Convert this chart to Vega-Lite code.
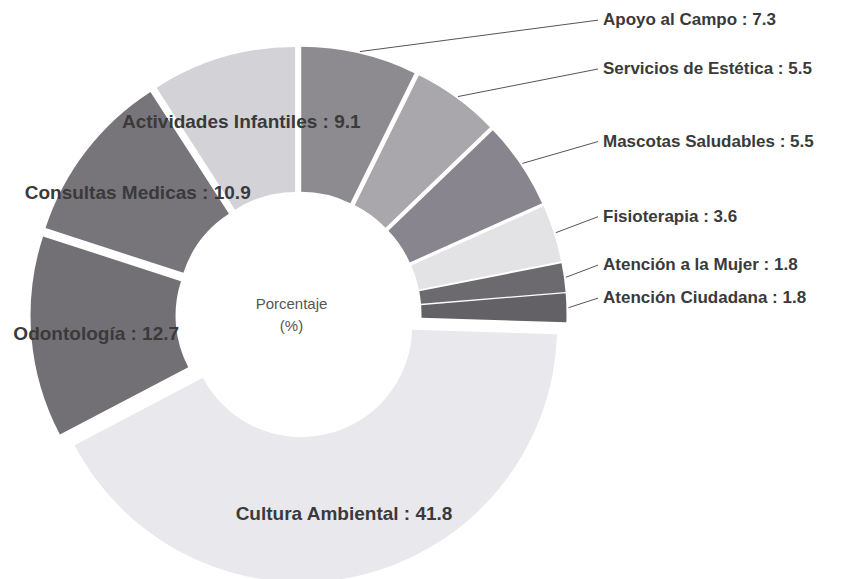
{
  "$schema": "https://vega.github.io/schema/vega-lite/v6.json",
  "width": 597,
  "height": 529,
  "autosize": {"type": "none"},
  "padding": {"left": 0, "top": 50, "right": 259, "bottom": 0},
  "background": "white",
  "config": {"view": {"stroke": null}, "text": {"font": "Liberation Sans"}},
  "data": {
    "values": [
      {"Actividad": "Apoyo al Campo", "Porcentaje": 7.3, "orden": 1},
      {"Actividad": "Servicios de Estética", "Porcentaje": 5.5, "orden": 2},
      {"Actividad": "Mascotas Saludables", "Porcentaje": 5.5, "orden": 3},
      {"Actividad": "Fisioterapia", "Porcentaje": 3.6, "orden": 4},
      {"Actividad": "Atención a la Mujer", "Porcentaje": 1.8, "orden": 5},
      {"Actividad": "Atención Ciudadana", "Porcentaje": 1.8, "orden": 6},
      {"Actividad": "Cultura Ambiental", "Porcentaje": 41.8, "orden": 7},
      {"Actividad": "Odontología", "Porcentaje": 12.7, "orden": 8},
      {"Actividad": "Consultas Medicas", "Porcentaje": 10.9, "orden": 9},
      {"Actividad": "Actividades Infantiles", "Porcentaje": 9.1, "orden": 10}
    ]
  },
  "transform": [
    {"joinaggregate": [{"op": "sum", "field": "Porcentaje", "as": "total"}]},
    {"window": [{"op": "sum", "field": "Porcentaje", "as": "acum"}], "sort": [{"field": "orden"}], "frame": [null, 0]},
    {"calculate": "(datum.acum - datum.Porcentaje) / datum.total", "as": "p0"},
    {"calculate": "datum.acum / datum.total", "as": "p1"},
    {"calculate": "PI * (datum.p0 + datum.p1)", "as": "ang"},
    {"calculate": "12 * sin(datum.ang)", "as": "ex"},
    {"calculate": "12 * cos(datum.ang)", "as": "ey"},
    {"calculate": "datum.Actividad + ' : ' + datum.Porcentaje", "as": "etiqueta"}
  ],
  "layer": [
    {
      "mark": {"type": "arc", "innerRadius": 111, "outerRadius": 256},
      "encoding": {
        "x": {"field": "ex", "type": "quantitative", "scale": {"domain": [-298.5, 298.5], "nice": false, "zero": false}, "axis": null},
        "y": {"field": "ey", "type": "quantitative", "scale": {"domain": [-264.5, 264.5], "nice": false, "zero": false}, "axis": null},
        "theta": {"field": "p0", "type": "quantitative", "scale": {"domain": [0, 1]}, "stack": null},
        "theta2": {"field": "p1"},
        "color": {
          "field": "Actividad",
          "type": "nominal",
          "legend": null,
          "scale": {
            "domain": ["Apoyo al Campo", "Servicios de Estética", "Mascotas Saludables", "Fisioterapia", "Atención a la Mujer", "Atención Ciudadana", "Cultura Ambiental", "Odontología", "Consultas Medicas", "Actividades Infantiles"],
            "range": ["#8d8b8f", "#a9a7ab", "#88858e", "#e3e3e6", "#6c6a6f", "#636166", "#e9e9ed", "#727075", "#77757a", "#d3d3d7"]
          }
        }
      }
    },
    {
      "transform": [
        {"filter": "datum.Porcentaje < 8"},
        {"calculate": "270 * sin(datum.ang)", "as": "lx1"},
        {"calculate": "270 * cos(datum.ang)", "as": "ly1"},
        {"calculate": "299.5", "as": "lx2"},
        {"calculate": "293 * cos(datum.ang) + 9", "as": "ly2"}
      ],
      "mark": {"type": "rule", "color": "#555555", "strokeWidth": 1},
      "encoding": {
        "x": {"field": "lx1", "type": "quantitative"},
        "y": {"field": "ly1", "type": "quantitative"},
        "x2": {"field": "lx2"},
        "y2": {"field": "ly2"}
      }
    },
    {
      "transform": [
        {"filter": "datum.Porcentaje < 8"},
        {"calculate": "304.5", "as": "tx"},
        {"calculate": "293 * cos(datum.ang) + 9", "as": "ty"}
      ],
      "mark": {"type": "text", "align": "left", "baseline": "middle", "fontSize": 17, "fontWeight": "bold", "color": "#3a3a3a"},
      "encoding": {
        "x": {"field": "tx", "type": "quantitative"},
        "y": {"field": "ty", "type": "quantitative"},
        "text": {"field": "etiqueta"}
      }
    },
    {
      "transform": [
        {"filter": "datum.Porcentaje >= 8"},
        {"calculate": "203 * sin(datum.ang)", "as": "tx"},
        {"calculate": "203 * cos(datum.ang)", "as": "ty"}
      ],
      "mark": {"type": "text", "align": "center", "baseline": "middle", "fontSize": 19, "fontWeight": "bold", "color": "#3a3a3a", "dy": 2},
      "encoding": {
        "x": {"field": "tx", "type": "quantitative"},
        "y": {"field": "ty", "type": "quantitative"},
        "text": {"field": "etiqueta"}
      }
    },
    {
      "data": {"values": [{"centro": "Porcentaje"}]},
      "mark": {"type": "text", "text": ["Porcentaje", "(%)"], "align": "center", "baseline": "middle", "lineHeight": 22, "fontSize": 15, "color": "#555555", "dx": -7, "dy": -11},
      "encoding": {}
    }
  ]
}
